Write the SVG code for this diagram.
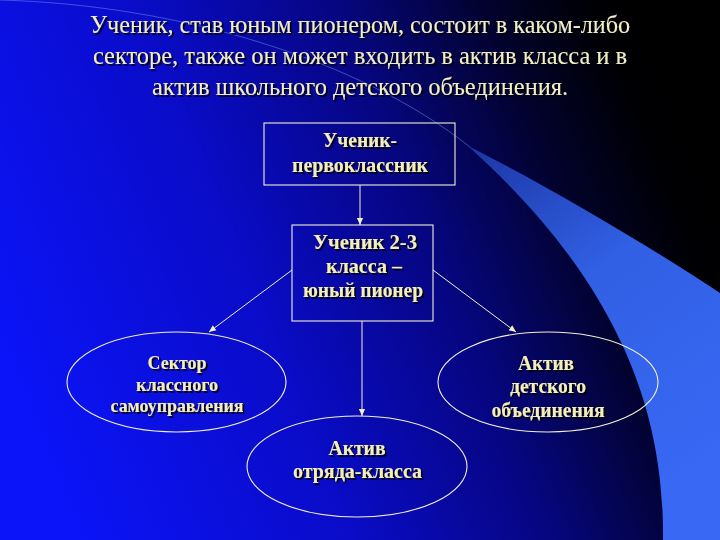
<svg xmlns="http://www.w3.org/2000/svg" width="720" height="540" viewBox="0 0 720 540">
  <defs>
    <linearGradient id="bg" x1="0" y1="0.65" x2="1" y2="0.35">
      <stop offset="0" stop-color="#0b14f8"/>
      <stop offset="0.35" stop-color="#0a0cc8"/>
      <stop offset="0.6" stop-color="#060682"/>
      <stop offset="0.8" stop-color="#02022c"/>
      <stop offset="0.93" stop-color="#000004"/>
      <stop offset="1" stop-color="#000000"/>
    </linearGradient>
    <linearGradient id="sw" gradientUnits="userSpaceOnUse" x1="470" y1="146" x2="700" y2="460">
      <stop offset="0" stop-color="#1c36a4"/>
      <stop offset="0.45" stop-color="#3160e4"/>
      <stop offset="1" stop-color="#3868f4"/>
    </linearGradient>
    <filter id="sh" x="-10%" y="-30%" width="120%" height="160%">
      <feDropShadow dx="1.8" dy="1.8" stdDeviation="0.3" flood-color="#000010" flood-opacity="0.95"/>
    </filter>
    <marker id="ah" viewBox="0 0 8 8" refX="8" refY="4" markerWidth="7" markerHeight="7" markerUnits="userSpaceOnUse" orient="auto">
      <path d="M0,0.5 L8,4 L0,7.5 Z" fill="#f4f0c0"/>
    </marker>
    <style>
      .title { font-family: "Liberation Serif", "Times New Roman", serif; font-size: 25.5px; fill: #f2eec4; text-anchor: middle; filter: url(#sh); }
      .lbl { font-family: "Liberation Serif", "Times New Roman", serif; font-weight: bold; font-size: 21px; fill: #f4eeb8; text-anchor: middle; filter: url(#sh); }
      .sm { font-size: 19px; }
      .shape { fill: none; stroke: #f2f0d2; stroke-width: 1.1; }
      .conn { fill: none; stroke: #f2f0d2; stroke-width: 1; marker-end: url(#ah); }
    </style>
  </defs>

  <rect x="0" y="0" width="720" height="540" fill="url(#bg)"/>
  <path d="M0,0 C180,5 360,60 470,147" fill="none" stroke="#5a7ee8" stroke-width="1" stroke-opacity="0.6"/>
  <path d="M468,146 C540,182 640,240 720,293 L720,540 L663,540 C664,440 640,300 468,146 Z" fill="url(#sw)"/>

  <g id="title">
    <text class="title" x="360" y="33" textLength="540" lengthAdjust="spacingAndGlyphs">Ученик, став юным пионером, состоит в каком-либо</text>
    <text class="title" x="360" y="64" textLength="534" lengthAdjust="spacingAndGlyphs">секторе, также он может входить в актив класса и в</text>
    <text class="title" x="360" y="95" textLength="416" lengthAdjust="spacingAndGlyphs">актив школьного детского объединения.</text>
  </g>

  <g id="connectors">
    <line class="conn" x1="360" y1="185" x2="360" y2="225"/>
    <line class="conn" x1="292" y1="270" x2="209" y2="332"/>
    <line class="conn" x1="433" y1="270" x2="516" y2="332"/>
    <line class="conn" x1="362" y1="321" x2="362" y2="416"/>
  </g>

  <g id="node-first">
    <rect class="shape" x="264" y="123" width="191" height="62"/>
    <text class="lbl" x="360" y="147" textLength="74" lengthAdjust="spacingAndGlyphs">Ученик-</text>
    <text class="lbl" x="360" y="172" textLength="136" lengthAdjust="spacingAndGlyphs">первоклассник</text>
  </g>

  <g id="node-pioneer">
    <rect class="shape" x="292" y="225" width="141" height="96"/>
    <text class="lbl" x="365" y="249" textLength="104" lengthAdjust="spacingAndGlyphs">Ученик 2-3</text>
    <text class="lbl" x="364" y="273" textLength="76" lengthAdjust="spacingAndGlyphs">класса –</text>
    <text class="lbl" x="363" y="297" textLength="120" lengthAdjust="spacingAndGlyphs">юный пионер</text>
  </g>

  <g id="node-sector">
    <ellipse class="shape" cx="176.5" cy="382" rx="109.5" ry="50"/>
    <text class="lbl sm" x="177" y="369" textLength="59" lengthAdjust="spacingAndGlyphs">Сектор</text>
    <text class="lbl sm" x="177" y="390.5" textLength="82" lengthAdjust="spacingAndGlyphs">классного</text>
    <text class="lbl sm" x="177" y="412" textLength="133" lengthAdjust="spacingAndGlyphs">самоуправления</text>
  </g>

  <g id="node-union">
    <ellipse class="shape" cx="548" cy="382" rx="110" ry="50"/>
    <text class="lbl" x="546" y="370" textLength="56" lengthAdjust="spacingAndGlyphs">Актив</text>
    <text class="lbl" x="548" y="393" textLength="76" lengthAdjust="spacingAndGlyphs">детского</text>
    <text class="lbl" x="548" y="417" textLength="113" lengthAdjust="spacingAndGlyphs">объединения</text>
  </g>

  <g id="node-class">
    <ellipse class="shape" cx="357" cy="466.5" rx="110" ry="50.5"/>
    <text class="lbl" x="357" y="455" textLength="57" lengthAdjust="spacingAndGlyphs">Актив</text>
    <text class="lbl" x="357.5" y="478" textLength="129" lengthAdjust="spacingAndGlyphs">отряда-класса</text>
  </g>
</svg>
